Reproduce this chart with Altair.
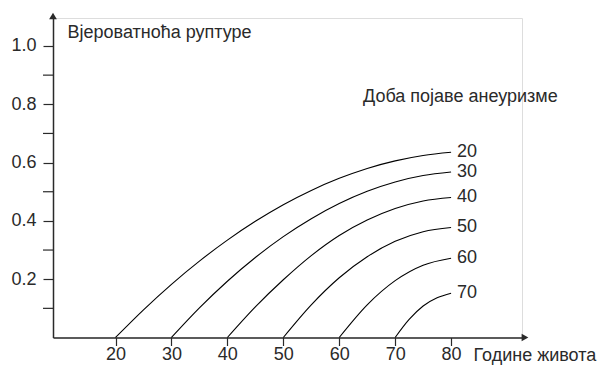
import altair as alt
import pandas as pd

# Age at onset of aneurysm (one curve each)
onsets = [20, 30, 40, 50, 60, 70]

# Age (years) and rupture probability
age_20 = [20, 25, 30, 35, 40, 45, 50, 55, 60, 65, 70, 75, 80]
p_20 = [0, 0.095, 0.1825, 0.262, 0.334, 0.3985, 0.4555, 0.5045, 0.546, 0.58, 0.606, 0.6245, 0.6355]
age_30 = [30, 35, 40, 45, 50, 55, 60, 65, 70, 75, 80]
p_30 = [0, 0.1015, 0.193, 0.2745, 0.346, 0.4075, 0.4595, 0.5015, 0.5335, 0.5555, 0.5675]
age_40 = [40, 45, 50, 55, 60, 65, 70, 75, 80]
p_40 = [0, 0.105, 0.198, 0.281, 0.35, 0.403, 0.4425, 0.4685, 0.4805]
age_50 = [50, 55, 60, 65, 70, 75, 80]
p_50 = [0, 0.112, 0.205, 0.277, 0.33, 0.363, 0.3775]
age_60 = [60, 65, 70, 75, 80]
p_60 = [0, 0.112, 0.195, 0.248, 0.272]
age_70 = [70, 72.5, 75, 77.5, 80]
p_70 = [0, 0.062, 0.108, 0.136, 0.152]

x_ticks = [20, 30, 40, 50, 60, 70, 80]
y_major = [0.2, 0.4, 0.6, 0.8, 1.0]
y_minor = [0.1, 0.3, 0.5, 0.7, 0.9]

y_title = "Вјероватноћа руптуре"
x_title = "Године живота"
legend_title = "Доба појаве анеуризме"

X_MIN, X_MAX = 8.82, 92.68
Y_MIN, Y_MAX = 0.0, 1.096

series = {20: (age_20, p_20), 30: (age_30, p_30), 40: (age_40, p_40),
          50: (age_50, p_50), 60: (age_60, p_60), 70: (age_70, p_70)}
rows = []
for o in onsets:
    a, p = series[o]
    for i, (ai, pi) in enumerate(zip(a, p)):
        rows.append({"onset": o, "age": ai, "p": pi, "order": i})
df = pd.DataFrame(rows)
ends = df.loc[df.groupby("onset")["order"].idxmax()].reset_index(drop=True)
ends["label"] = ends["onset"].astype(str)

FONT = "Liberation Sans"
TXT = "#2a2a2a"
AX = "#2a2a2a"
FS = 18

xs = alt.Scale(domain=[X_MIN, X_MAX], nice=False, zero=False)
ys = alt.Scale(domain=[Y_MIN, Y_MAX], nice=False, zero=False)

x_axis = alt.Axis(values=x_ticks, grid=False, tickSize=8, tickColor=AX, tickWidth=1.2,
                  domainColor=AX, domainWidth=1.5, labelFontSize=FS, labelColor=TXT,
                  labelFont=FONT, labelPadding=0, title=x_title, titleFont=FONT,
                  titleFontSize=FS, titleFontWeight="normal", titleColor=TXT,
                  titleAngle=0, titleAlign="left", titleBaseline="alphabetic",
                  titleX=420, titleY=22.5, labelOverlap=False)
y_axis = alt.Axis(values=y_major, grid=False, tickSize=10, tickColor=AX, tickWidth=1.2,
                  domainColor=AX, domainWidth=1.5, labelFontSize=FS, labelColor=TXT,
                  labelFont=FONT, labelPadding=7, format=".1f", labelOverlap=False,
                  title=y_title, titleFont=FONT, titleFontSize=FS, titleFontWeight="normal",
                  titleColor=TXT, titleAngle=0, titleAlign="left", titleBaseline="alphabetic",
                  titleX=14, titleY=19)

lines = alt.Chart(df).mark_line(color="black", strokeWidth=1.1, interpolate="monotone").encode(
    x=alt.X("age:Q", scale=xs, axis=x_axis),
    y=alt.Y("p:Q", scale=ys, axis=y_axis),
    detail="onset:N",
    order="order:Q",
)

minor = alt.Chart(pd.DataFrame({"v": y_minor})).mark_rule(color=AX, strokeWidth=1.2).encode(
    y=alt.Y("v:Q", scale=ys), x=alt.value(-10), x2=alt.value(0))

labels = alt.Chart(ends).mark_text(align="left", baseline="middle", dx=6, font=FONT,
                                    fontSize=FS, color=TXT).encode(
    x=alt.X("age:Q", scale=xs), y=alt.Y("p:Q", scale=ys), text="label:N")

legend_text = alt.Chart(pd.DataFrame({"t": [legend_title]})).mark_text(
    align="left", baseline="alphabetic", font=FONT, fontSize=FS, color=TXT).encode(
    x=alt.value(310), y=alt.value(84), text="t:N")

arrow_y = alt.Chart(pd.DataFrame({"a": [0]})).mark_point(
    shape="triangle-up", filled=True, size=60, color=AX, opacity=1, yOffset=-2).encode(
    x=alt.datum(X_MIN, scale=xs), y=alt.datum(Y_MAX, scale=ys))
arrow_x = alt.Chart(pd.DataFrame({"a": [0]})).mark_point(
    shape="triangle-right", filled=True, size=60, color=AX, opacity=1, xOffset=3).encode(
    x=alt.datum(X_MAX, scale=xs), y=alt.datum(Y_MIN, scale=ys))

chart = alt.layer(lines, minor, labels, legend_text, arrow_y, arrow_x).properties(
    width=469, height=319.5,
    autosize=alt.AutoSizeParams(type="none"),
    padding={"left": 53, "top": 18, "right": 80, "bottom": 30.5},
).configure_view(stroke=None).configure(background="white")

chart.save("out.html", embed_options={"renderer": "svg", "actions": False})
